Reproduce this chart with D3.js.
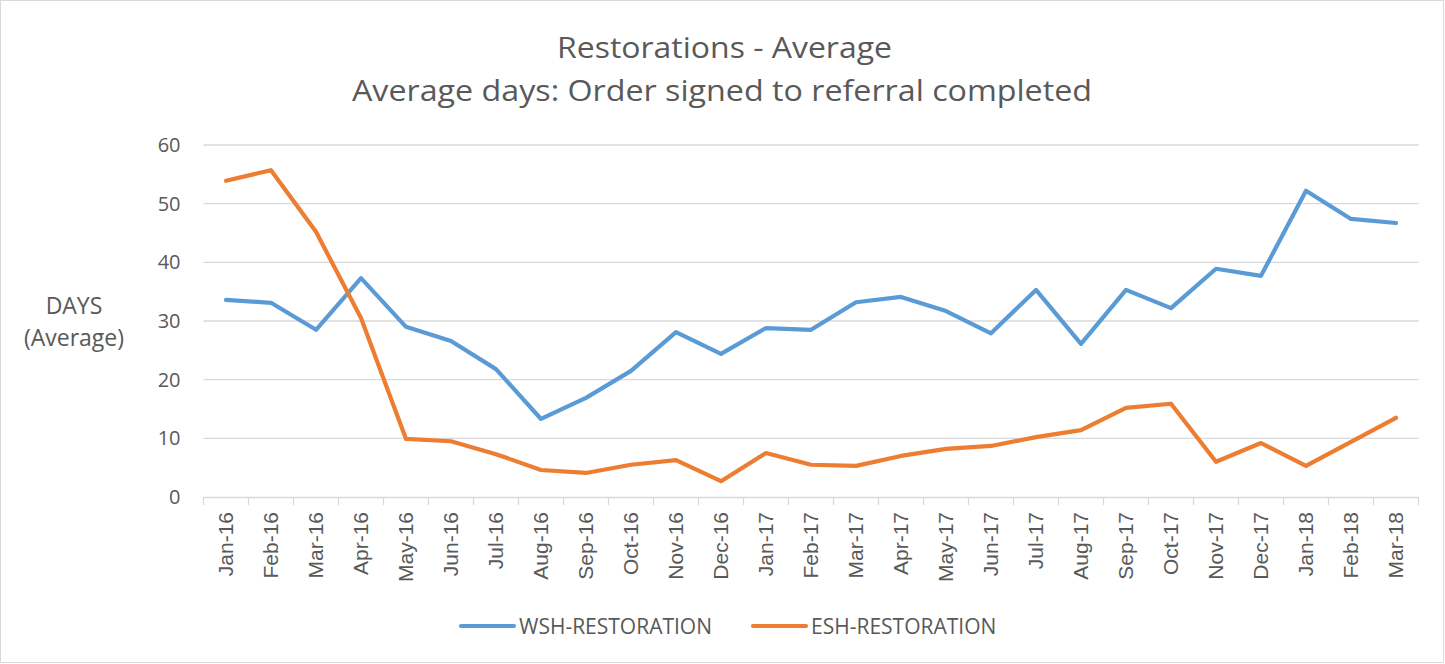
<!DOCTYPE html>
<html><head><meta charset="utf-8">
<script src="https://cdn.jsdelivr.net/npm/d3@7"></script>
<style>body{margin:0;background:#fff}svg{display:block}text{font-family:"Open Sans",sans-serif;fill:#595959}</style>
</head><body><svg id="c" width="1445" height="664"></svg>
<script>
const months = ["Jan-16","Feb-16","Mar-16","Apr-16","May-16","Jun-16","Jul-16","Aug-16","Sep-16","Oct-16","Nov-16","Dec-16","Jan-17","Feb-17","Mar-17","Apr-17","May-17","Jun-17","Jul-17","Aug-17","Sep-17","Oct-17","Nov-17","Dec-17","Jan-18","Feb-18","Mar-18"];
const wsh = [33.6,33.1,28.5,37.3,29.0,26.6,21.8,13.3,16.9,21.5,28.1,24.4,28.8,28.5,33.2,34.1,31.7,27.9,35.3,26.1,35.3,32.2,38.9,37.7,52.2,47.4,46.7];
const esh = [53.9,55.7,45.2,30.5,9.9,9.5,7.3,4.6,4.1,5.5,6.3,2.7,7.5,5.5,5.3,7.0,8.2,8.7,10.2,11.4,15.2,15.9,6.0,9.2,5.3,9.4,13.5];
const yTicks = [0,10,20,30,40,50,60];
const seriesNames = ["WSH-RESTORATION","ESH-RESTORATION"];
const colors = ["#5B9BD5","#ED7D31"];

const svg = d3.select("#c");
svg.append("rect").attr("x",0.5).attr("y",0.5).attr("width",1443).attr("height",662).attr("fill","#fff").attr("stroke","#D9D9D9");

const x = d3.scaleBand().domain(months).range([203.5,1418.5]);
const y = d3.scaleLinear().domain([0,60]).range([497,145]);

// gridlines
svg.append("g").selectAll("line").data(yTicks.filter(d=>d>0)).join("line")
  .attr("x1",203.5).attr("x2",1418.5).attr("y1",d=>y(d)).attr("y2",d=>y(d))
  .attr("stroke","#D9D9D9").attr("stroke-width",1.3);

// y axis labels
const ya = svg.append("g").attr("transform","translate(203.5,0)")
  .call(d3.axisLeft(y).tickValues(yTicks).tickSize(0).tickPadding(23));
ya.select(".domain").remove();
ya.selectAll("text").style("font-size","20px").attr("fill","#595959").style("font-family","'Open Sans',sans-serif");

// x axis
const xa = svg.append("g").attr("transform","translate(0,497)")
  .call(d3.axisBottom(x).tickSize(0));
xa.select(".domain").attr("stroke","#D9D9D9").attr("stroke-width",1.3);
xa.selectAll("text").style("font-size","21px").attr("fill","#595959").style("font-family","'Liberation Sans',Arial,sans-serif")
  .attr("transform","rotate(-90)").attr("text-anchor","end").attr("x",-15).attr("y",0).attr("dy","0.35em");
xa.selectAll(".tick").attr("transform",d=>`translate(${x(d)+x.bandwidth()/2},0)`);
// tick marks between categories
svg.append("g").selectAll("line").data(d3.range(months.length+1)).join("line")
  .attr("x1",i=>203.5+i*x.bandwidth()).attr("x2",i=>203.5+i*x.bandwidth())
  .attr("y1",497).attr("y2",505).attr("stroke","#D9D9D9").attr("stroke-width",1.3);

// lines
const line = d3.line().x((d,i)=>x(months[i])+x.bandwidth()/2).y(d=>y(d));
[wsh,esh].forEach((s,k)=>{
  svg.append("path").datum(s).attr("d",line).attr("fill","none")
    .attr("stroke",colors[k]).attr("stroke-width",4.2).attr("stroke-linejoin","round").attr("stroke-linecap","round");
});

// titles
svg.append("text").attr("x",724.5).attr("y",58).attr("text-anchor","middle").style("font-size","30px")
  .attr("textLength",335).attr("lengthAdjust","spacingAndGlyphs").text("Restorations - Average");
svg.append("text").attr("x",722).attr("y",101).attr("text-anchor","middle").style("font-size","30px")
  .attr("textLength",740).attr("lengthAdjust","spacingAndGlyphs").text("Average days: Order signed to referral completed");

// y axis title
svg.append("text").attr("x",74).attr("y",314).attr("text-anchor","middle").style("font-size","23px").text("DAYS");
svg.append("text").attr("x",74).attr("y",346).attr("text-anchor","middle").style("font-size","23px").text("(Average)");

// legend
const lx = [461,753];
seriesNames.forEach((n,k)=>{
  svg.append("line").attr("x1",lx[k]).attr("x2",lx[k]+53).attr("y1",626).attr("y2",626)
    .attr("stroke",colors[k]).attr("stroke-width",4.2).attr("stroke-linecap","round");
  svg.append("text").attr("x",lx[k]+58).attr("y",626).attr("dy","0.36em").style("font-size","21px").text(n);
});
</script></body></html>
